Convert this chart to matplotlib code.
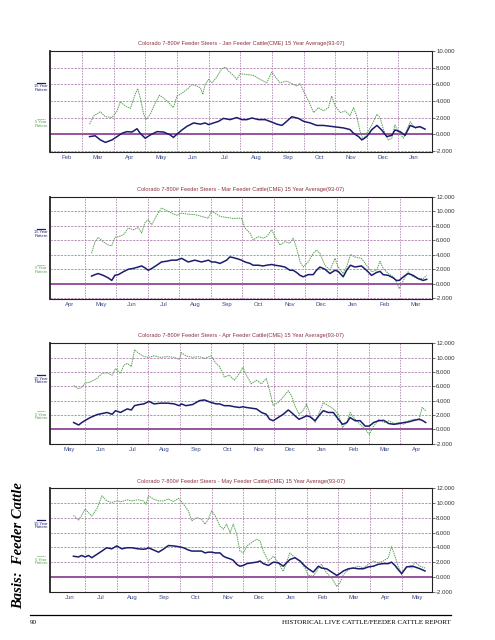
"""
Basis: Feeder Cattle page - four Colorado 7-800# feeder steer basis panels
(15 year vs 5 year pattern), laid out like the printed report page.
"""
import numpy as np
import matplotlib
matplotlib.use("Agg")
import matplotlib.pyplot as plt

# ---- data: x in months from the start of the first labelled month ----------
TITLES = [
    "Colorado 7-800# Feeder Steers - Jan Feeder Cattle(CME) 15 Year Average(93-07)",
    "Colorado 7-800# Feeder Steers - Mar Feeder Cattle(CME) 15 Year Average(93-07)",
    "Colorado 7-800# Feeder Steers - Apr Feeder Cattle(CME) 15 Year Average(93-07)",
    "Colorado 7-800# Feeder Steers - May Feeder Cattle(CME) 15 Year Average(93-07)",
]
MONTHS = [
    ["Feb", "Mar", "Apr", "May", "Jun", "Jul", "Aug", "Sep", "Oct", "Nov", "Dec", "Jan"],
    ["Apr", "May", "Jun", "Jul", "Aug", "Sep", "Oct", "Nov", "Dec", "Jan", "Feb", "Mar"],
    ["May", "Jun", "Jul", "Aug", "Sep", "Oct", "Nov", "Dec", "Jan", "Feb", "Mar", "Apr"],
    ["Jun", "Jul", "Aug", "Sep", "Oct", "Nov", "Dec", "Jan", "Feb", "Mar", "Apr", "May"],
]
YTICKS = [np.arange(-2, 11, 2), np.arange(-2, 13, 2), np.arange(-2, 13, 2), np.arange(-2, 13, 2)]

# Jan contract
jan_x5 = [1.24, 1.37, 1.58, 1.74, 1.95, 2.11, 2.21, 2.37, 2.53, 2.68, 2.76, 2.84, 2.95, 3.03,
          3.16, 3.32, 3.45, 3.63, 3.79, 3.89, 4.00, 4.11, 4.32, 4.47, 4.63, 4.74, 4.82, 4.89,
          5.00, 5.11, 5.26, 5.42, 5.53, 5.63, 5.79, 5.89, 6.00, 6.21, 6.42, 6.63, 6.84, 7.00,
          7.11, 7.26, 7.47, 7.68, 7.79, 7.89, 8.00, 8.16, 8.32, 8.47, 8.63, 8.79, 8.89, 9.00,
          9.16, 9.32, 9.47, 9.58, 9.68, 9.79, 9.89, 10.00, 10.16, 10.32, 10.42, 10.53, 10.68,
          10.79, 10.89, 11.00, 11.16, 11.37, 11.53, 11.68, 11.84]
jan_y5 = [1.2, 2.2, 2.7, 2.1, 2.0, 2.8, 3.9, 3.4, 3.1, 4.8, 5.5, 4.4, 2.4, 1.8,
          2.4, 3.8, 4.7, 4.2, 3.6, 3.2, 4.6, 4.8, 5.4, 6.0, 5.8, 5.6, 4.8, 6.0,
          6.6, 6.2, 6.9, 7.9, 8.1, 7.6, 7.1, 6.6, 7.3, 7.2, 7.1, 6.6, 6.2, 7.5,
          6.9, 6.2, 6.4, 6.0, 5.8, 6.1, 5.2, 4.0, 2.6, 3.2, 2.8, 3.2, 4.6, 3.4,
          2.6, 2.8, 2.2, 3.2, 2.2, 0.3, -0.7, 0.1, 1.1, 2.4, 2.0, 0.5, -0.7,
          -0.5, 1.1, 0.3, -0.5, 1.5, 0.7, 0.9, 0.65]
jan_x15 = [1.24, 1.42, 1.58, 1.74, 1.95, 2.11, 2.26, 2.42, 2.58, 2.74, 2.84, 3.00, 3.16, 3.37,
           3.58, 3.79, 3.89, 4.00, 4.16, 4.32, 4.53, 4.74, 4.89, 5.00, 5.16, 5.32, 5.47, 5.68,
           5.89, 6.05, 6.21, 6.37, 6.58, 6.79, 7.00, 7.16, 7.32, 7.47, 7.63, 7.84, 8.00, 8.21,
           8.42, 8.63, 8.84, 9.05, 9.26, 9.47, 9.58, 9.74, 9.84, 10.00, 10.16, 10.32, 10.47,
           10.63, 10.79, 10.89, 11.05, 11.21, 11.37, 11.53, 11.68, 11.84]
jan_y15 = [-0.3, -0.2, -0.7, -1.0, -0.7, -0.3, 0.1, 0.3, 0.25, 0.65, 0.1, -0.5, -0.1, 0.3,
           0.25, -0.1, -0.4, 0.0, 0.5, 0.95, 1.35, 1.2, 1.35, 1.15, 1.35, 1.55, 1.9, 1.75,
           2.0, 1.75, 1.75, 1.95, 1.75, 1.75, 1.45, 1.2, 1.05, 1.55, 2.1, 1.9, 1.55, 1.35,
           1.05, 1.05, 0.95, 0.85, 0.75, 0.55, 0.1, -0.3, -0.7, -0.3, 0.55, 1.05, 0.5,
           -0.3, -0.15, 0.5, 0.3, -0.15, 1.05, 0.8, 0.9, 0.6]

# Mar contract
mar_x = [1.21, 1.32, 1.42, 1.58, 1.74, 1.85, 1.95, 2.06, 2.22, 2.38, 2.53, 2.69, 2.80, 2.90,
         3.01, 3.12, 3.28, 3.43, 3.59, 3.75, 3.91, 4.07, 4.28, 4.49, 4.70, 4.92, 5.02, 5.13,
         5.29, 5.50, 5.60, 5.71, 5.87, 5.97, 6.08, 6.24, 6.34, 6.50, 6.66, 6.77, 6.93, 7.03,
         7.19, 7.35, 7.51, 7.61, 7.72, 7.83, 7.93, 8.09, 8.25, 8.35, 8.46, 8.62, 8.78, 8.94,
         9.04, 9.20, 9.31, 9.43, 9.57, 9.78, 9.94, 10.10, 10.26, 10.37, 10.47, 10.63, 10.79,
         10.89, 10.98, 11.11, 11.26, 11.42, 11.58, 11.74, 11.85]
mar_y5 = [4.2, 5.8, 6.4, 5.8, 5.35, 5.25, 6.4, 6.5, 6.75, 7.7, 7.45, 7.75, 7.0, 8.4,
          8.85, 8.15, 9.45, 10.45, 10.1, 9.75, 9.45, 9.75, 9.6, 9.55, 9.3, 9.05, 10.0, 9.75,
          9.3, 9.15, 9.1, 9.0, 9.05, 9.05, 7.7, 7.0, 6.05, 6.5, 6.3, 6.5, 7.45, 6.5,
          5.35, 5.8, 5.6, 6.3, 4.9, 3.0, 2.3, 3.0, 4.2, 4.65, 4.2, 2.55, 1.85, 3.5,
          2.3, 1.4, 2.3, 4.05, 3.7, 3.5, 2.55, 1.65, 1.85, 3.1, 2.1, 1.4, 0.95,
          0.25, -0.7, 0.45, 1.65, 0.95, 0.7, 0.7, 1.15]
mar_y15 = [1.05, 1.25, 1.4, 1.15, 0.8, 0.45, 1.15, 1.25, 1.65, 2.0, 2.1, 2.3, 2.45, 2.2,
           1.85, 2.1, 2.55, 3.0, 3.1, 3.25, 3.25, 3.5, 3.0, 3.25, 3.0, 3.25, 3.0, 3.0,
           2.8, 3.25, 3.7, 3.6, 3.4, 3.25, 3.0, 2.8, 2.55, 2.55, 2.45, 2.55, 2.65, 2.55,
           2.45, 2.3, 1.85, 1.85, 1.55, 1.15, 0.95, 1.25, 1.25, 1.85, 2.3, 2.0, 1.4, 1.85,
           1.7, 0.95, 1.85, 2.55, 2.3, 2.45, 1.85, 1.15, 1.55, 1.7, 1.25, 1.15, 0.8,
           0.45, 0.45, 0.95, 1.4, 1.15, 0.7, 0.45, 0.6]

# Apr contract
apr_x = [0.63, 0.79, 0.89, 1.00, 1.16, 1.37, 1.53, 1.69, 1.85, 1.96, 2.12, 2.22, 2.33, 2.46,
         2.56, 2.70, 2.86, 3.02, 3.18, 3.39, 3.61, 3.82, 3.98, 4.05, 4.19, 4.40, 4.62, 4.78,
         4.99, 5.15, 5.26, 5.41, 5.57, 5.73, 5.89, 6.00, 6.11, 6.27, 6.43, 6.59, 6.74, 6.85,
         6.96, 7.12, 7.28, 7.44, 7.54, 7.65, 7.78, 7.91, 8.02, 8.13, 8.29, 8.45, 8.55, 8.71,
         8.87, 9.03, 9.16, 9.30, 9.40, 9.56, 9.72, 9.88, 10.01, 10.15, 10.31, 10.47, 10.63,
         10.79, 10.95, 11.11, 11.27, 11.43, 11.59, 11.69, 11.80]
apr_y5 = [6.1, 5.65, 5.9, 6.45, 6.6, 7.1, 7.8, 7.9, 7.55, 8.5, 7.8, 8.95, 9.2, 8.75,
          11.1, 10.6, 10.15, 10.05, 10.25, 10.05, 10.15, 10.05, 9.75, 10.7, 10.25, 10.05, 10.15, 9.9,
          10.25, 9.2, 8.75, 7.3, 7.55, 6.85, 7.8, 8.65, 7.55, 6.35, 6.85, 6.35, 7.1, 5.4,
          3.3, 3.75, 4.5, 5.4, 4.7, 3.3, 2.1, 2.6, 3.55, 2.1, 0.95, 2.6, 3.75, 3.3,
          2.85, 2.1, 0.25, 0.95, 2.35, 1.4, 0.7, 0.0, -0.7, 0.45, 1.4, 0.95, 1.2,
          0.8, 0.95, 0.7, 1.2, 1.4, 1.4, 3.05, 2.6]
apr_y15 = [0.95, 0.6, 0.95, 1.25, 1.65, 2.05, 2.2, 2.35, 2.1, 2.6, 2.35, 2.6, 2.85, 2.7,
           3.3, 3.45, 3.55, 3.9, 3.55, 3.65, 3.65, 3.55, 3.3, 3.55, 3.3, 3.45, 4.0, 4.1,
           3.75, 3.55, 3.55, 3.3, 3.3, 3.15, 3.05, 3.15, 3.05, 2.95, 2.85, 2.35, 2.1, 1.4,
           1.2, 1.65, 2.1, 2.7, 2.35, 1.9, 1.4, 1.65, 1.9, 1.75, 1.2, 2.1, 2.6, 2.35,
           2.35, 1.4, 0.7, 0.95, 1.65, 1.2, 1.2, 0.45, 0.45, 0.95, 1.2, 1.25, 0.8,
           0.7, 0.8, 0.95, 1.05, 1.25, 1.4, 1.25, 0.95]

# May contract
may_x = [0.63, 0.79, 0.89, 1.00, 1.11, 1.21, 1.37, 1.53, 1.68, 1.84, 2.00, 2.16, 2.32, 2.47,
         2.68, 2.84, 2.93, 3.00, 3.16, 3.32, 3.47, 3.63, 3.79, 3.95, 4.11, 4.26, 4.37, 4.53,
         4.68, 4.79, 4.89, 5.00, 5.11, 5.26, 5.37, 5.47, 5.58, 5.68, 5.79, 5.89, 6.00, 6.11,
         6.26, 6.42, 6.53, 6.63, 6.79, 6.95, 7.11, 7.26, 7.47, 7.63, 7.79, 7.95, 8.05, 8.21,
         8.37, 8.47, 8.63, 8.79, 8.95, 9.05, 9.16, 9.32, 9.47, 9.63, 9.79, 9.95, 10.11,
         10.26, 10.42, 10.58, 10.68, 10.79, 10.89, 11.00, 11.16, 11.32, 11.42, 11.58, 11.74]
may_y5 = [8.35, 7.7, 8.35, 9.2, 8.7, 8.25, 9.2, 11.0, 10.3, 10.1, 10.3, 10.2, 10.45, 10.3,
          10.45, 10.3, 9.85, 11.0, 10.55, 10.3, 10.3, 10.55, 10.2, 10.65, 9.85, 8.95, 7.6, 8.05,
          7.8, 7.15, 7.8, 8.95, 8.25, 6.9, 6.45, 7.15, 6.0, 7.15, 5.75, 3.5, 3.25, 4.2,
          4.65, 5.1, 4.85, 3.5, 2.15, 2.8, 1.9, 0.75, 3.25, 2.6, 2.15, 1.2, 0.2, 0.1,
          1.2, 1.7, 0.55, -0.15, -1.3, -0.8, 0.3, 1.0, 1.2, 1.45, 1.2, 1.7, 2.15,
          1.9, 2.15, 2.6, 4.1, 2.8, 1.45, 0.3, 1.45, 1.2, 2.0, 1.45, 1.2]
may_y15 = [2.8, 2.7, 2.9, 2.7, 2.9, 2.6, 3.05, 3.5, 3.95, 3.8, 4.2, 3.8, 3.95, 3.95,
           3.8, 3.75, 3.8, 3.95, 3.65, 3.35, 3.75, 4.25, 4.2, 4.1, 3.95, 3.65, 3.5, 3.5,
           3.5, 3.25, 3.35, 3.35, 3.25, 3.25, 2.8, 2.6, 2.45, 2.25, 1.7, 1.45, 1.55, 1.8,
           1.9, 2.0, 2.15, 1.8, 1.55, 2.0, 1.9, 1.45, 2.35, 2.6, 2.15, 1.45, 1.1, 0.65,
           1.45, 1.2, 1.1, 0.65, 0.2, 0.45, 0.8, 1.1, 1.2, 1.1, 1.1, 1.35, 1.45,
           1.7, 1.8, 1.8, 2.0, 1.55, 1.0, 0.45, 1.35, 1.45, 1.35, 1.1, 0.8]

SERIES = [
    (jan_x15, jan_y15, jan_x5, jan_y5),
    (mar_x, mar_y15, mar_x, mar_y5),
    (apr_x, apr_y15, apr_x, apr_y5),
    (may_x, may_y15, may_x, may_y5),
]

# ---- layout (pixels on a 495 x 640 page) ----------------------------------
W, H = 495, 640
AX_LEFT, AX_RIGHT = 50, 432
PANELS = [  # (top px, bottom px, ylim, xlim)
    (50.5, 151.5, (-2.1, 10.1), (-0.01, 12.06)),
    (196.5, 298.5, (-2.05, 12.05), (-0.11, 12.02)),
    (343, 444, (-2.05, 12.05), (-0.12, 12.0)),
    (488, 592, (-2.05, 12.05), (-0.11, 11.96)),
]
NAVY = "#1c1c6e"
GREEN = "#5aa155"
GRID = "#a878a8"
ZERO = "#7a2486"
TITLE_C = "#8a3040"
MONTH_C = "#3c4a86"

plt.rcParams["font.family"] = ["Liberation Sans", "DejaVu Sans"]
fig = plt.figure(figsize=(W / 100, H / 100), dpi=100)


def fx(px):
    return px / W


def fy(py):
    return 1 - py / H


for i, (top, bot, ylim, xlim) in enumerate(PANELS):
    ax = fig.add_axes([fx(AX_LEFT), fy(bot), fx(AX_RIGHT - AX_LEFT), (bot - top) / H])
    x15, y15, x5, y5 = SERIES[i]

    # grid: dashed horizontals at each tick, dashed verticals at month boundaries
    for yv in YTICKS[i]:
        if yv == 0:
            ax.axhline(0, color=ZERO, lw=1.1, zorder=1)
        else:
            ax.axhline(yv, color=GRID, lw=0.55, ls=(0, (3, 1.5)), zorder=1)
    for m in range(1, 12):
        ax.axvline(m, color=GRID, lw=0.55, ls=(0, (2, 1.5)), zorder=1)

    ax.plot(x5, y5, color=GREEN, lw=0.7, ls=(0, (1.5, 0.8)), zorder=2)
    ax.plot(x15, y15, color=NAVY, lw=1.1, zorder=3)

    ax.set_xlim(*xlim)
    ax.set_ylim(*ylim)

    ax.yaxis.tick_right()
    ax.set_yticks(YTICKS[i])
    ax.set_yticklabels([f"{v:.3f}" for v in YTICKS[i]], fontsize=4.3, color="#333333")
    ax.tick_params(axis="y", length=2, width=0.5, pad=1, colors="#333333")

    ax.set_xticks(np.arange(12) + 0.5)
    ax.set_xticklabels(MONTHS[i], fontsize=4.3, color=MONTH_C)
    ax.tick_params(axis="x", length=0, pad=2.5)

    for side, sp in ax.spines.items():
        sp.set_color("#222222")
        sp.set_linewidth(0.8)
    ax.spines["left"].set_linewidth(1.3)

    fig.text(fx((AX_LEFT + AX_RIGHT) / 2), fy(top - 7), TITLES[i],
             fontsize=4.1, color=TITLE_C, ha="center", va="center")

    # little legend at the left of each panel
    lx = 41
    fig.add_artist(plt.Line2D([fx(lx - 4), fx(lx + 4)], [fy(top + 32)] * 2,
                              color=NAVY, lw=0.9))
    fig.text(fx(lx), fy(top + 37.5), "15 Year\nPattern", fontsize=3.0, color=NAVY,
             ha="center", va="center", linespacing=0.95)
    fig.add_artist(plt.Line2D([fx(lx - 4), fx(lx + 4)], [fy(top + 68)] * 2,
                              color=GREEN, lw=0.7, ls=(0, (1, 1))))
    fig.text(fx(lx), fy(top + 73.5), "5 Year\nPattern", fontsize=3.0, color=GREEN,
             ha="center", va="center", linespacing=0.95)

# side heading and page footer
fig.text(fx(18.5), fy(546), "Basis:  Feeder Cattle", rotation=90, fontsize=10.5,
         family="Liberation Serif", weight="bold", style="italic",
         ha="center", va="center", color="black")
fig.add_artist(plt.Line2D([fx(30), fx(451)], [fy(615), fy(615)], color="black", lw=0.9))
fig.text(fx(30), fy(622), "90", fontsize=5, family="Liberation Serif",
         ha="left", va="center")
fig.text(fx(451), fy(622), "HISTORICAL LIVE CATTLE/FEEDER CATTLE REPORT", fontsize=5,
         family="Liberation Serif", ha="right", va="center")

fig.savefig("out.png", dpi=100, facecolor="white")
plt.close(fig)
